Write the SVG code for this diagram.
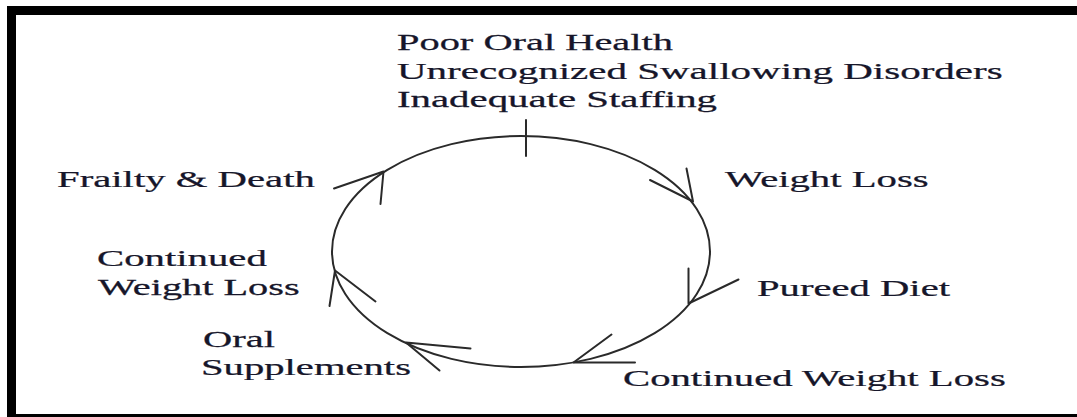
<svg xmlns="http://www.w3.org/2000/svg" width="1077" height="417" viewBox="0 0 1077 417">
<style>
.t{font-family:"Liberation Serif","Times New Roman",serif;font-size:23px;fill:#16162a;stroke:#16162a;stroke-width:0.25}
.c{fill:none;stroke:#2a2a2a;stroke-width:2;stroke-linecap:round;stroke-linejoin:round}
</style>
<rect x="0" y="0" width="1077" height="417" fill="#ffffff"/>
<g id="frame">
<rect x="7" y="6" width="1070" height="9" fill="#000"/>
<rect x="7" y="6" width="9" height="411" fill="#000"/>
<rect x="7" y="414" width="1070" height="3" fill="#000"/>
</g>
<g id="connectors">
<ellipse class="c" cx="521" cy="251.5" rx="189" ry="115.5"/>
<path class="c" d="M526 120 L526 156"/>
<path class="c" d="M650 180 L693 201.5 L686.5 168.5"/>
<path class="c" d="M688.5 268.5 L688.5 303.5 L738.5 279.5"/>
<path class="c" d="M611.5 334.5 L573.5 362.5 L635 362.5"/>
<path class="c" d="M470.5 348.5 L406 342.5 L439.5 370.5"/>
<path class="c" d="M329.5 306 L335 270.5 L375.5 301.5"/>
<path class="c" d="M334 188.5 L383.5 171.5 L380.5 204"/>
</g>
<g id="node-causes">
<text class="t" transform="translate(397,50) scale(1.756,1)">Poor Oral Health</text>
<text class="t" transform="translate(397,78.5) scale(1.783,1)">Unrecognized Swallowing Disorders</text>
<text class="t" transform="translate(397,107) scale(1.776,1)">Inadequate Staffing</text>
</g>
<g id="node-weight-loss">
<text class="t" transform="translate(725,187) scale(1.770,1)">Weight Loss</text>
</g>
<g id="node-pureed-diet">
<text class="t" transform="translate(757,296) scale(1.767,1)">Pureed Diet</text>
</g>
<g id="node-continued-weight-loss-1">
<text class="t" transform="translate(623,386) scale(1.771,1)">Continued Weight Loss</text>
</g>
<g id="node-oral-supplements">
<text class="t" transform="translate(203,347) scale(1.762,1)">Oral</text>
<text class="t" transform="translate(201,375) scale(1.767,1)">Supplements</text>
</g>
<g id="node-continued-weight-loss-2">
<text class="t" transform="translate(97,266) scale(1.773,1)">Continued</text>
<text class="t" transform="translate(98,295) scale(1.753,1)">Weight Loss</text>
</g>
<g id="node-frailty-death">
<text class="t" transform="translate(57,187) scale(1.771,1)">Frailty &amp; Death</text>
</g>
</svg>
